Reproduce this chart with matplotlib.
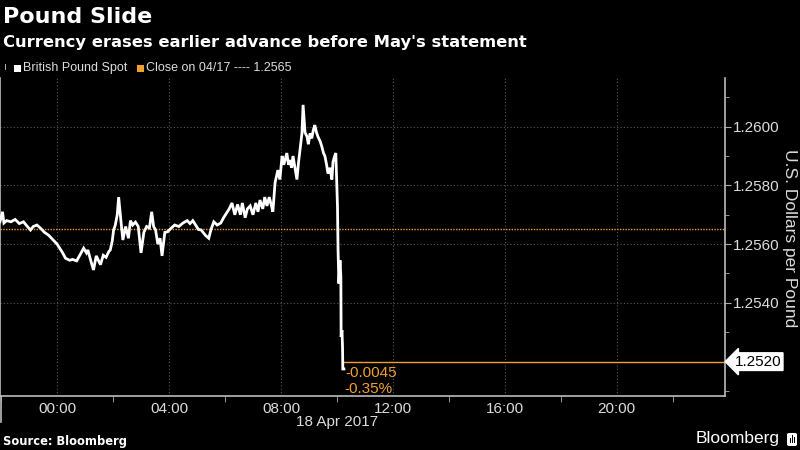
import matplotlib
matplotlib.use("Agg")
import matplotlib.pyplot as plt
import matplotlib.ticker as mticker
from matplotlib.patches import FancyBboxPatch, Rectangle
from matplotlib.lines import Line2D

# --- data (hours relative to 00:00 on 18 Apr 2017) ---
hours = [-2.04, -1.95, -1.9, -1.8, -1.65, -1.5, -1.35, -1.2, -1.08, -0.95, -0.85, -0.72,
         -0.6, -0.45, -0.3, -0.15, 0.0, 0.1, 0.2, 0.3, 0.45, 0.55, 0.7, 0.8, 0.95,
         1.05, 1.1, 1.2, 1.3, 1.4, 1.55, 1.65, 1.75, 1.85, 1.9, 1.97, 2.02, 2.08,
         2.15, 2.2, 2.28, 2.35, 2.45, 2.55, 2.62, 2.7, 2.8, 2.9, 3.0, 3.1, 3.2,
         3.3, 3.38, 3.45, 3.52, 3.6, 3.68, 3.75, 3.85, 3.95, 4.05, 4.2, 4.35,
         4.5, 4.65, 4.75, 4.85, 4.95, 5.05, 5.15, 5.3, 5.42, 5.5, 5.6, 5.72,
         5.85, 5.95, 6.05, 6.15, 6.25, 6.35, 6.45, 6.55, 6.62, 6.72, 6.8,
         6.9, 7.0, 7.1, 7.18, 7.25, 7.35, 7.42, 7.5, 7.58, 7.65, 7.71,
         7.79, 7.89, 7.96, 8.04, 8.1, 8.21, 8.27, 8.32, 8.38, 8.43, 8.5, 8.57,
         8.63, 8.68, 8.75, 8.79, 8.86, 8.93, 8.98, 9.04, 9.1, 9.16, 9.21, 9.27,
         9.32, 9.4, 9.46, 9.52, 9.57, 9.63, 9.68, 9.75, 9.82, 9.86, 9.92, 9.96,
         10.0, 10.02, 10.04, 10.07, 10.11, 10.14, 10.15, 10.18, 10.2, 10.21, 10.25]
price = [1.25676, 1.25710, 1.25672, 1.25680, 1.25676, 1.25684, 1.25670, 1.25676,
         1.25662, 1.25648, 1.25660, 1.25665, 1.25655, 1.25640, 1.25630, 1.25615,
         1.25600, 1.25585, 1.25570, 1.25552, 1.25545, 1.25548, 1.25543, 1.25560,
         1.25586, 1.25570, 1.25580, 1.25545, 1.25512, 1.25560, 1.25530, 1.25562,
         1.25555, 1.25575, 1.25580, 1.25610, 1.25648, 1.25665, 1.25700, 1.25760,
         1.25680, 1.25614, 1.25660, 1.25620, 1.25680, 1.25665, 1.25675, 1.25660,
         1.25570, 1.25640, 1.25660, 1.25655, 1.25710, 1.25660, 1.25648, 1.25600,
         1.25620, 1.25560, 1.25640, 1.25642, 1.25652, 1.25665, 1.25660, 1.25672,
         1.25680, 1.25670, 1.25680, 1.25665, 1.25650, 1.25648, 1.25630, 1.25620,
         1.25650, 1.25676, 1.25665, 1.25672, 1.25690, 1.25705, 1.25720, 1.25740,
         1.25700, 1.25735, 1.25700, 1.25740, 1.25690, 1.25720,
         1.25730, 1.25700, 1.25740, 1.25710, 1.25750, 1.25720, 1.25760, 1.25730,
         1.25760, 1.25735, 1.25710,
         1.25810, 1.25852, 1.25820, 1.25900, 1.25870, 1.25910, 1.25870, 1.25886,
         1.25860, 1.25900, 1.25860, 1.25820, 1.25880, 1.25920, 1.25977, 1.26074,
         1.25980, 1.25966, 1.25940, 1.25977, 1.25960, 1.25990, 1.26005, 1.25980,
         1.25966, 1.25950, 1.25932, 1.25910, 1.25900, 1.25870, 1.25840, 1.25860,
         1.25820, 1.25880, 1.25900, 1.25910,
         1.25784, 1.25727, 1.25580, 1.25466, 1.25545, 1.25489, 1.25284, 1.25307,
         1.25250, 1.25175, 1.25175]
prev_close = 1.2565
last_price = 1.2520
change_abs = "-0.0045"
change_pct = "-0.35%"
xtick_hours = [0, 4, 8, 12, 16, 20]
xtick_labels = ["00:00", "04:00", "08:00", "12:00", "16:00", "20:00"]
ytick_vals = [1.2540, 1.2560, 1.2580, 1.2600]

orange = "#f0a030"
grey_txt = "#dcdcdc"
sans = ["Liberation Sans", "DejaVu Sans"]

fig = plt.figure(figsize=(8, 4.5), dpi=100, facecolor="black")
ax = fig.add_axes([0.0, 0.12, 0.906, 0.707], facecolor="black")

ax.plot(hours, price, color="white", linewidth=2.0, solid_joinstyle="miter", zorder=3)
ax.axhline(prev_close, color=orange, linewidth=1.0, linestyle=(0, (1, 1)), zorder=2)
ax.plot([hours[-2], 23.86], [last_price, last_price], color=orange, linewidth=1.0, zorder=2)

ax.set_xlim(-2.04, 23.86)
ax.set_ylim(1.25083, 1.26166)

ax.set_xticks(xtick_hours)
ax.set_xticklabels(xtick_labels)
ax.xaxis.set_minor_locator(mticker.MultipleLocator(2))
ax.yaxis.tick_right()
ax.set_yticks(ytick_vals)
ax.yaxis.set_major_formatter(mticker.FormatStrFormatter("%.4f"))
ax.yaxis.set_minor_locator(mticker.MultipleLocator(0.001))

ax.grid(True, which="major", color="#5a5a5a", linestyle=(0, (1, 2)), linewidth=0.8)
ax.tick_params(axis="both", which="both", colors="#aaaaaa", labelcolor=grey_txt,
               labelsize=11, direction="out")
ax.tick_params(axis="x", which="major", length=0, pad=4)
ax.tick_params(axis="x", which="minor", length=4)
ax.tick_params(axis="y", which="major", length=4, pad=2)
ax.tick_params(axis="y", which="minor", length=3)
for lab in ax.get_xticklabels() + ax.get_yticklabels():
    lab.set_family(sans)

ax.spines["top"].set_visible(False)
for side in ["left", "bottom", "right"]:
    ax.spines[side].set_color("#bbbbbb")
    ax.spines[side].set_linewidth(1.2)

# day separator below the left end of the axis
fig.add_artist(Line2D([0.8 / 800, 0.8 / 800], [1 - 396 / 450, 1 - 422 / 450],
                      color="#bbbbbb", linewidth=1.2))

# y axis title on the right
fig.text(790 / 800, 1 - 238 / 450, "U.S. Dollars per Pound", color=grey_txt,
         fontsize=12.5, rotation=270, ha="center", va="center", family=sans)

# last price tag on the right axis
ax.annotate(f"{last_price:.4f}", xy=(1.0, last_price), xycoords=("axes fraction", "data"),
            xytext=(7, 0), textcoords="offset points", ha="left", va="center",
            fontsize=11, color="black", family=sans,
            bbox=dict(boxstyle="larrow,pad=0.12", fc="white", ec="white"))

# change annotation
ax.annotate(change_abs, xy=(hours[-2], last_price), xytext=(2, -8),
            textcoords="offset points", ha="left", va="center", color=orange,
            fontsize=11, family=sans)
ax.annotate(change_pct, xy=(hours[-2], last_price), xytext=(1, -20),
            textcoords="offset points", ha="left", va="center", color=orange,
            fontsize=11, family=sans)

fig.text(337 / 800, 1 - 422 / 450, "18 Apr 2017", color=grey_txt, fontsize=11,
         ha="center", va="center", family=sans)

# titles and legend
fig.text(0.004, 1 - 17 / 450, "Pound Slide", color="white", fontsize=16,
         fontweight="bold", ha="left", va="center")
fig.text(0.004, 1 - 42 / 450, "Currency erases earlier advance before May's statement",
         color="white", fontsize=11.8, fontweight="bold", ha="left", va="center")
fig.patches.append(Rectangle((5 / 800, 1 - 70 / 450), 1.2 / 800, 6 / 450,
                             transform=fig.transFigure, fc="#aaaaaa", ec="none"))
fig.patches.append(Rectangle((14 / 800, 1 - 72 / 450), 7 / 800, 7 / 450,
                             transform=fig.transFigure, fc="white", ec="none"))
fig.text(23 / 800, 1 - 68 / 450, "British Pound Spot", color=grey_txt, fontsize=9,
         ha="left", va="center", family=sans)
fig.patches.append(Rectangle((137 / 800, 1 - 72 / 450), 7 / 800, 7 / 450,
                             transform=fig.transFigure, fc=orange, ec="none"))
fig.text(146 / 800, 1 - 68 / 450, "Close on 04/17 ---- 1.2565", color=grey_txt,
         fontsize=9, ha="left", va="center", family=sans)

# footer
fig.text(0.004, 1 - 441 / 450, "Source: Bloomberg", color="white", fontsize=8.3,
         fontweight="bold", ha="left", va="center")
fig.text(780 / 800, 1 - 439 / 450, "Bloomberg", color="white", fontsize=12.5,
         ha="right", va="center", family=sans)
fig.patches.append(FancyBboxPatch((787 / 800, 1 - 446 / 450), 10 / 800, 13 / 450,
                                  boxstyle="round,pad=0.0,rounding_size=0.003",
                                  transform=fig.transFigure, fc="white", ec="none"))
for bx, bh in [(789.5, 5), (791.8, 8), (794.1, 6)]:
    fig.patches.append(Rectangle((bx / 800, 1 - 443 / 450), 1.2 / 800, bh / 450,
                                 transform=fig.transFigure, fc="black", ec="none"))

fig.savefig("out.png", dpi=100, facecolor="black")
